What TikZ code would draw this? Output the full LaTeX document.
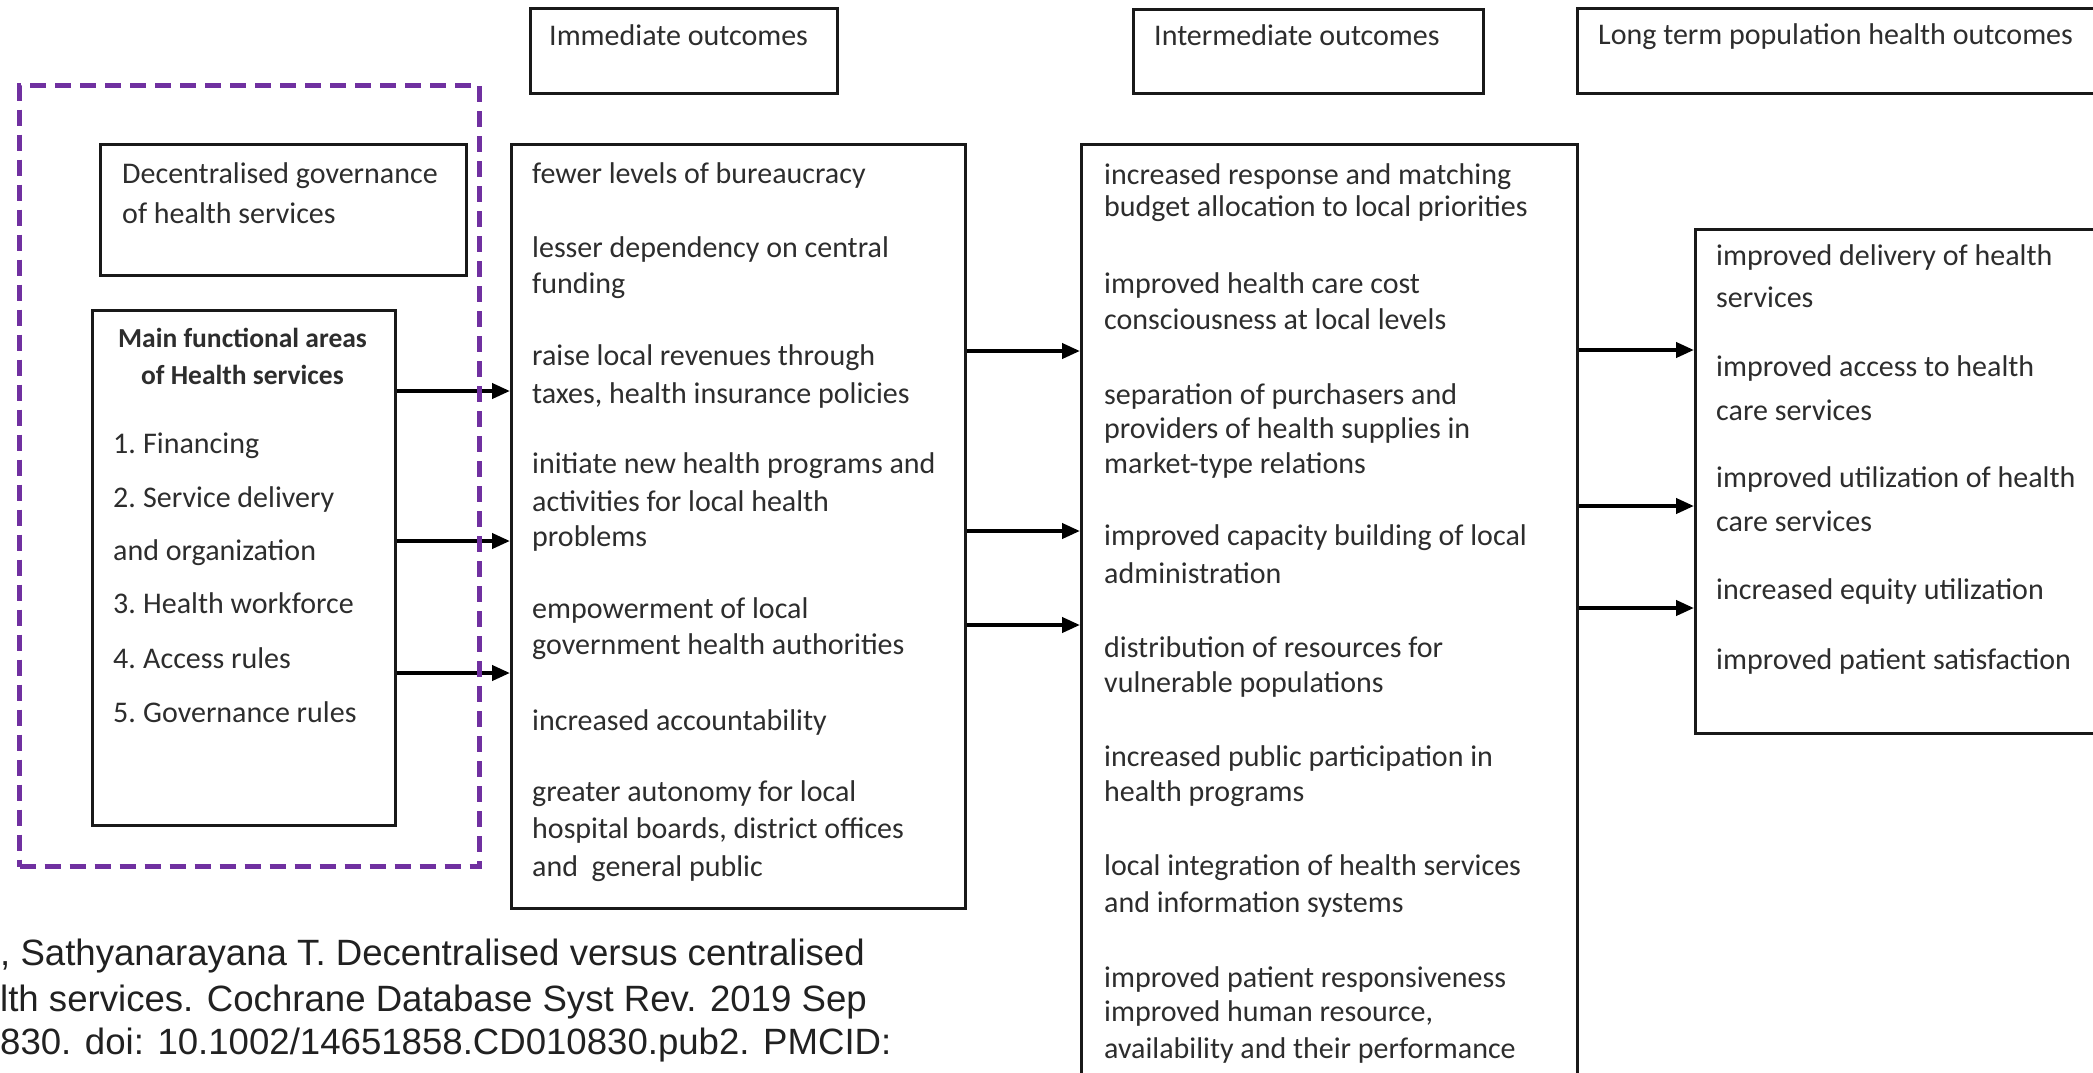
\documentclass[tikz,border=0pt]{standalone}
\usepackage{fontspec}
\setmainfont{Carlito}
\newfontfamily\citefont{Liberation Sans}
\usetikzlibrary{arrows.meta}
\definecolor{zonepurple}{RGB}{112,48,160}
\definecolor{ink}{RGB}{45,45,45}
\definecolor{citegray}{RGB}{33,33,33}
\tikzset{
  box/.style={draw=black!90, line width=2.5pt, inner sep=0pt, anchor=north west},
  txt/.style={anchor=base west, inner sep=0pt, text=ink, font=\fontsize{30}{36}\selectfont},
  flow/.style={line width=4pt, -{Triangle[length=18pt,width=15pt]}},
  zone/.style={draw=zonepurple, line width=5pt, dash pattern=on 16pt off 9pt, inner sep=0pt, anchor=north west},
  cite/.style={anchor=base west, inner sep=0pt, text=citegray, font=\citefont\fontsize{36.6}{44}\selectfont},
}
\newcommand{\boxat}[5]{\node[box, minimum width=#4pt, minimum height=#5pt] (#1) at (#2,#3) {};}

\begin{document}
\begin{tikzpicture}[x=1pt,y=-1pt]
\useasboundingbox (0,0) rectangle (2093,1072);
\fill[white] (0,0) rectangle (2093,1072);
\clip (0,0) rectangle (2093,1072);

% column headers
\boxat{himm}{529}{7}{307}{85}
\boxat{hint}{1132}{8}{350}{84}
\boxat{hlong}{1576}{7}{530}{85}
\node[txt] (himm-t) at (549,45) {Immediate outcomes};
\node[txt] (hint-t) at (1154,45) {Intermediate outcomes};
\node[txt] (hlong-t) at (1598,44) {Long term population health outcomes};

% left part
\boxat{dec}{99}{143}{366}{131}
\boxat{func}{91}{309}{303}{515}
\node[txt] (dec-1) at (122,183) {Decentralised governance};
\node[txt] (dec-2) at (122,223) {of health services};
\node[txt, anchor=base, font=\bfseries\fontsize{27.5}{33}\selectfont] (fhead-1) at (242.5,347) {Main functional areas};
\node[txt, anchor=base, font=\bfseries\fontsize{27.5}{33}\selectfont] (fhead-2) at (242.5,384) {of Health services};
\foreach \y/\num/\words [count=\i] in {453/1./Financing, 507/2./{Service delivery}, 613/3./{Health workforce}, 668/4./{Access rules}, 722/5./{Governance rules}}{
  \node[txt] (fnum-\i) at (113,\y) {\num};
  \node[txt] (farea-\i) at (143,\y) {\words};
}
\node[txt] (farea-2b) at (113,560) {and organization};

% outcome boxes
\boxat{imm}{510}{143}{454}{764}
\boxat{inter}{1080}{143}{496}{960}
\boxat{longt}{1694}{228}{410}{504}
\foreach \y/\words [count=\i] in {183/{fewer levels of bureaucracy}, 257/{lesser dependency on central}, 293/funding,
  365/{raise local revenues through}, 403/{taxes, health insurance policies}, 473/{initiate new health programs and},
  511/{activities for local health}, 546/problems, 618/{empowerment of local}, 654/{government health authorities},
  730/{increased accountability}, 801/{greater autonomy for local}, 838/{hospital boards, district offices},
  876/{and\ \ general public}}
  \node[txt] (imm-\i) at (532,\y) {\words};
\foreach \y/\words [count=\i] in {184/{increased response and matching}, 216/{budget allocation to local priorities},
  293/{improved health care cost}, 329/{consciousness at local levels}, 404/{separation of purchasers and},
  438/{providers of health supplies in}, 473/{market-type relations}, 545/{improved capacity building of local},
  583/administration, 657/{distribution of resources for}, 692/{vulnerable populations},
  766/{increased public participation in}, 801/{health programs}, 875/{local integration of health services},
  912/{and information systems}, 987/{improved patient responsiveness}, 1021/{improved human resource,},
  1058/{availability and their performance}}
  \node[txt] (inter-\i) at (1104,\y) {\words};
\foreach \y/\words [count=\i] in {265/{improved delivery of health}, 307/services, 376/{improved access to health},
  420/{care services}, 487/{improved utilization of health}, 531/{care services},
  599/{increased equity utilization}, 669/{improved patient satisfaction}}
  \node[txt] (longt-\i) at (1716,\y) {\words};

% arrows
\coordinate (a1) at (0,391); \coordinate (a2) at (0,541); \coordinate (a3) at (0,673);
\coordinate (b1) at (0,351); \coordinate (b2) at (0,531); \coordinate (b3) at (0,625);
\coordinate (c1) at (0,350); \coordinate (c2) at (0,506); \coordinate (c3) at (0,608);
\foreach \k in {1,2,3}{
  \draw[flow] (func.east |- a\k) -- (imm.west |- a\k);
  \draw[flow] (imm.east |- b\k) -- (inter.west |- b\k);
  \draw[flow] (inter.east |- c\k) -- (longt.west |- c\k);
}

\node[zone, minimum width=460pt, minimum height=781pt] (zone) at (17,83) {};

% source line
\node[cite] (cite-1) at (0,965) {, Sathyanarayana T. Decentralised versus centralised};
\node[cite] (cite-2) at (0,1011) {lth services. Cochrane Database Syst Rev. 2019 Sep};
\node[cite] (cite-3) at (0,1054) {830. doi: 10.1002/14651858.CD010830.pub2. PMCID:};
\end{tikzpicture}
\end{document}
